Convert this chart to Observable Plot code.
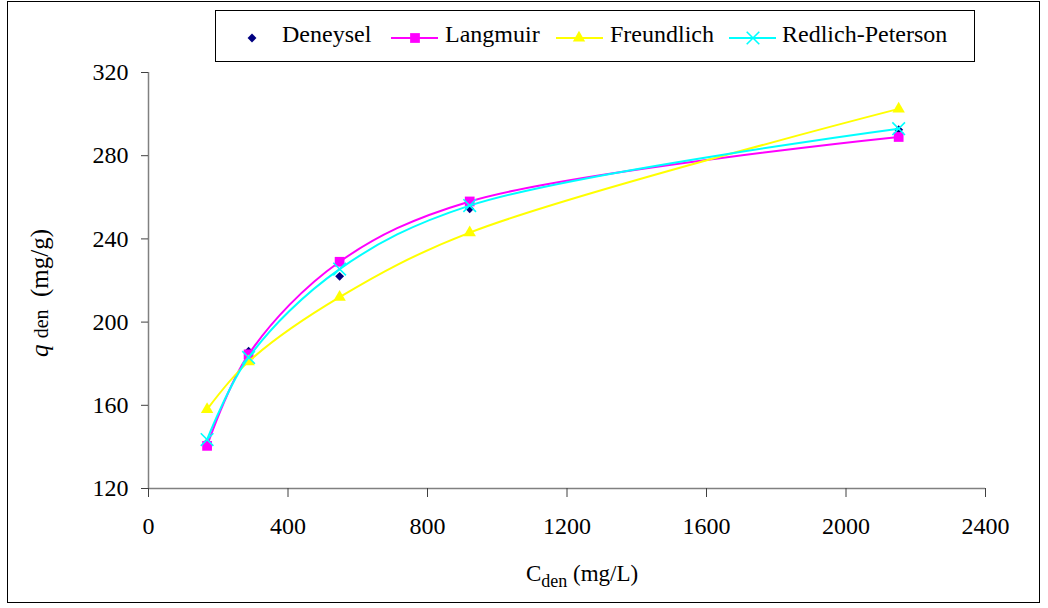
<!DOCTYPE html>
<html>
<head>
<meta charset="utf-8">
<script src="https://cdn.jsdelivr.net/npm/d3@7"></script>
<script src="https://cdn.jsdelivr.net/npm/@observablehq/plot@0.6"></script>
<style>
  body { margin: 0; background: white; }
  #wrap { position: relative; width: 1048px; height: 608px; font-family: "Liberation Serif", "Times New Roman", serif; color: black; }
  #wrap svg { position: absolute; left: 0; top: 0; }
  .frame { position: absolute; left: 7px; top: 1px; width: 1033px; height: 602px; border: 1.5px solid black; box-sizing: border-box; pointer-events: none; }
  .legend { position: absolute; left: 215px; top: 10px; width: 760px; height: 52px; border: 1px solid black; box-sizing: border-box; background: white; font-size: 24px; }
  .legend svg { position: absolute; left: 0; top: 0; }
  .legend .lbl { position: absolute; top: 9px; line-height: 28px; white-space: nowrap; }
  .ylabel { position: absolute; left: 40px; top: 293px; transform: translate(-50%, -50%) rotate(-90deg); font-size: 25px; white-space: nowrap; }
  .xlabel { position: absolute; left: 582px; top: 560px; transform: translateX(-50%); font-size: 23px; white-space: nowrap; line-height: 28px; }
  .sub { font-size: 18px; }
  .mid { font-size: 20px; }
</style>
</head>
<body>
<div id="wrap"></div>
<script>
// Equilibrium concentration (mg/L) and adsorbed amount (mg/g)
const concentration = [168, 287, 548, 921, 2151];
const deneysel = [142, 186, 222, 254.5, 292.5];
const langmuir = [140.5, 184.5, 229, 258, 289];
const freundlich = [158, 181, 212, 243, 302.5];
const redlichPeterson = [143.5, 183, 225.5, 256, 293];

const xTicks = [0, 400, 800, 1200, 1600, 2000, 2400];
const yTicks = [120, 160, 200, 240, 280, 320];

const seriesNames = ["Deneysel", "Langmuir", "Freundlich", "Redlich-Peterson"];
const seriesColors = ["#000080", "#FF00FF", "#FFFF00", "#00FFFF"];

const rows = (vals) => concentration.map((c, i) => ({c, q: vals[i]}));

const fitted = [
  {name: "Langmuir", data: rows(langmuir), color: "#FF00FF", symbol: "square", r: 5.5, filled: true},
  {name: "Freundlich", data: rows(freundlich), color: "#FFFF00", symbol: "triangle", r: 4.6, filled: true},
  {name: "Redlich-Peterson", data: rows(redlichPeterson), color: "#00FFFF", symbol: "times", r: 5.8, filled: false}
];

const marks = [
  Plot.ruleY([120], {stroke: "#808080", strokeWidth: 1.5}),
  Plot.ruleX([0], {stroke: "#808080", strokeWidth: 1.5}),
  Plot.axisX({ticks: xTicks, tickSize: 9, tickPadding: 19, fontSize: 24, stroke: "#404040", fill: "black", label: null, tickFormat: d => String(d)}),
  Plot.axisY({ticks: yTicks, tickSize: 7, tickPadding: 13, fontSize: 24, stroke: "#404040", fill: "black", label: null, tickFormat: d => String(d)}),
  // experimental points: markers only
  Plot.dot(rows(deneysel), {x: "c", y: "q", symbol: "diamond2", r: 4, fill: "#000080", stroke: "none"})
];

for (const s of fitted) {
  marks.push(Plot.line(s.data, {x: "c", y: "q", stroke: s.color, strokeWidth: 2, curve: "catmull-rom"}));
  if (s.filled) {
    marks.push(Plot.dot(s.data, {x: "c", y: "q", symbol: s.symbol, r: s.r, fill: s.color, stroke: "none"}));
  } else {
    marks.push(Plot.dot(s.data, {x: "c", y: "q", symbol: s.symbol, r: s.r, stroke: s.color, strokeWidth: 1.6}));
  }
}

const chart = Plot.plot({
  width: 1048,
  height: 608,
  marginLeft: 148,
  marginRight: 63,
  marginTop: 72,
  marginBottom: 120,
  style: {fontFamily: "'Liberation Serif', 'Times New Roman', serif", fontSize: "24px", background: "white", color: "black"},
  x: {domain: [0, 2400]},
  y: {domain: [120, 320]},
  marks
});

const wrap = document.getElementById("wrap");
wrap.appendChild(chart);

// outer border
const frame = document.createElement("div");
frame.className = "frame";
wrap.appendChild(frame);

// axis titles
const xl = document.createElement("div");
xl.className = "xlabel";
xl.innerHTML = 'C<sub class="sub">den</sub> (mg/L)';
wrap.appendChild(xl);

const yl = document.createElement("div");
yl.className = "ylabel";
yl.innerHTML = '<i>q</i>&nbsp;<span class="mid">den</span>&nbsp;&nbsp;(mg/g)';
wrap.appendChild(yl);

// legend
const legend = document.createElement("div");
legend.className = "legend";
wrap.appendChild(legend);

const ox = 215, oy = 10; // legend box origin
const legendItems = [
  {name: seriesNames[0], color: seriesColors[0], symbol: d3.symbolDiamond2, size: 50, line: null, mx: 251, tx: 281, filled: true},
  {name: seriesNames[1], color: seriesColors[1], symbol: d3.symbolSquare, size: 95, line: [390, 437], mx: 414, tx: 444, filled: true},
  {name: seriesNames[2], color: seriesColors[2], symbol: d3.symbolTriangle, size: 66, line: [555, 602], mx: 578, tx: 609, filled: true},
  {name: seriesNames[3], color: seriesColors[3], symbol: d3.symbolTimes, size: 105, line: [728, 775], mx: 752, tx: 781, filled: false}
];

const lsvg = d3.create("svg").attr("width", 760).attr("height", 52);
const cy = 37 - oy;
for (const it of legendItems) {
  if (it.line) {
    lsvg.append("line")
      .attr("x1", it.line[0] - ox).attr("x2", it.line[1] - ox)
      .attr("y1", cy).attr("y2", cy)
      .attr("stroke", it.color).attr("stroke-width", 2);
  }
  lsvg.append("path")
    .attr("transform", `translate(${it.mx - ox},${cy})`)
    .attr("d", d3.symbol(it.symbol, it.size)())
    .attr("fill", it.filled ? it.color : "none")
    .attr("stroke", it.filled ? "none" : it.color)
    .attr("stroke-width", 1.6);
  const t = document.createElement("div");
  t.className = "lbl";
  t.style.left = (it.tx - ox) + "px";
  t.textContent = it.name;
  legend.appendChild(t);
}
legend.appendChild(lsvg.node());
</script>
</body>
</html>
